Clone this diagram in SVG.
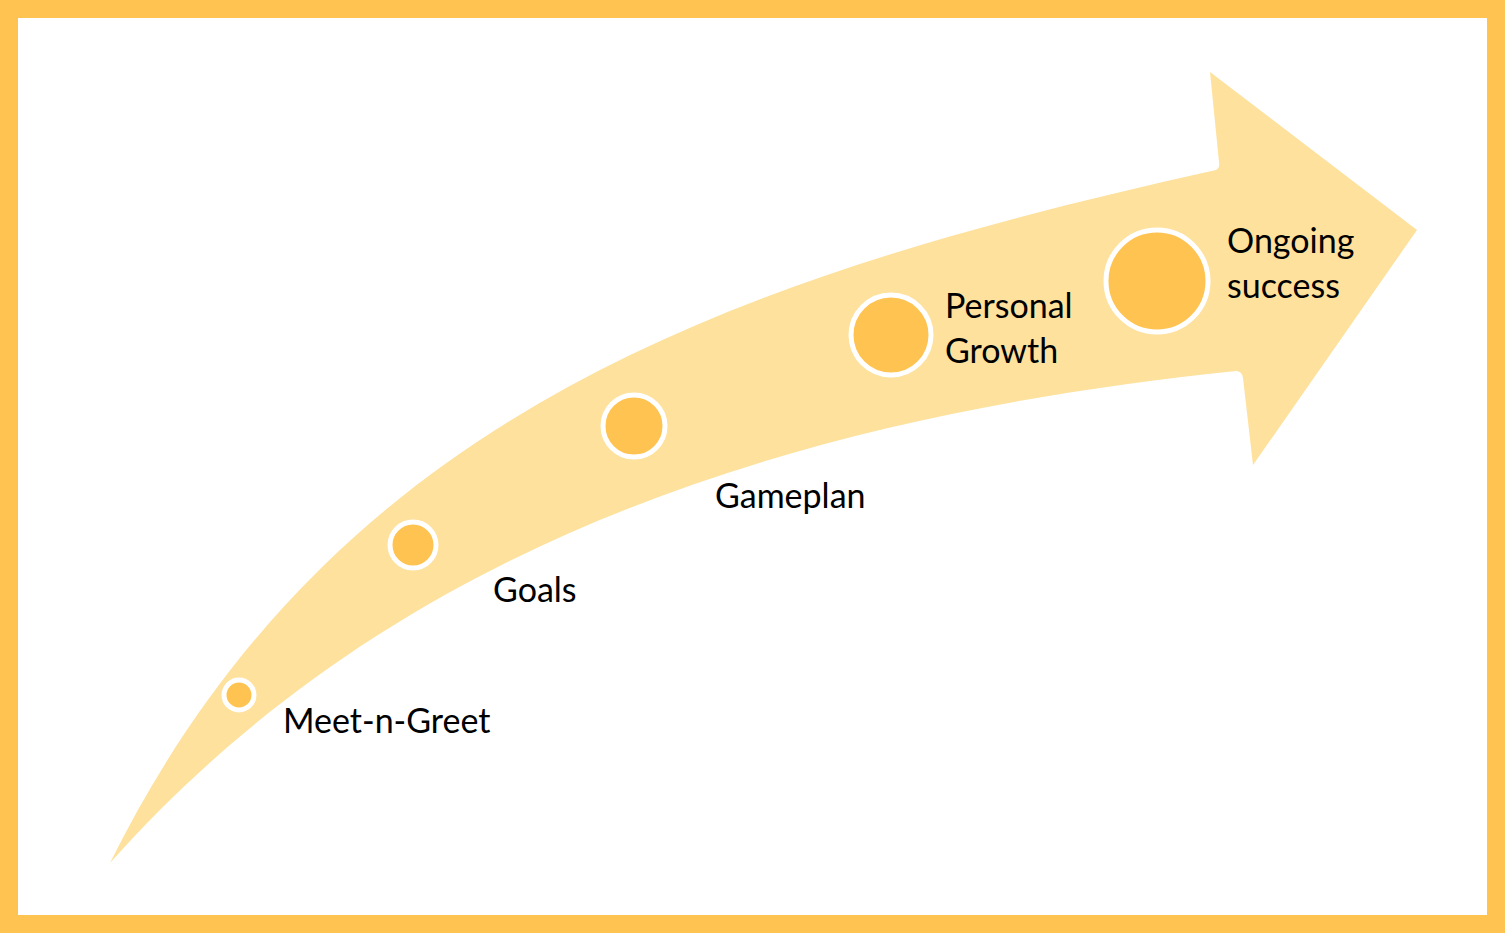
<svg xmlns="http://www.w3.org/2000/svg" width="1505" height="933" viewBox="0 0 1505 933">
<style>
.c{fill:#FFC352;stroke:#fff;stroke-width:5}
.t{font-family:Lato,"Noto Sans",sans-serif;font-size:34px;fill:#000}
</style>
<rect x="9" y="9" width="1487" height="915" fill="#fff" stroke="#FFC352" stroke-width="18"/>
<g id="arrow">
<path d="M110,863 C330,420 720,280 1216,170 Q1220,168 1219,162 L1210,72 L1417,230 L1253,465 L1243,378 Q1242,371 1236,371 C760,420 380,560 110,863 Z" fill="#FDE19D"/>
</g>
<g id="n1"><circle class="c" cx="239" cy="695" r="15"/><text class="t" x="283" y="733">Meet-n-Greet</text></g>
<g id="n2"><circle class="c" cx="413" cy="545" r="23"/><text class="t" x="493" y="602">Goals</text></g>
<g id="n3"><circle class="c" cx="634" cy="426" r="31"/><text class="t" x="715" y="508">Gameplan</text></g>
<g id="n4"><circle class="c" cx="891" cy="335" r="40"/><text class="t" x="945" y="318">Personal</text><text class="t" x="945" y="363">Growth</text></g>
<g id="n5"><circle class="c" cx="1157" cy="281" r="51"/><text class="t" x="1227" y="253">Ongoing</text><text class="t" x="1227" y="298">success</text></g>
</svg>
